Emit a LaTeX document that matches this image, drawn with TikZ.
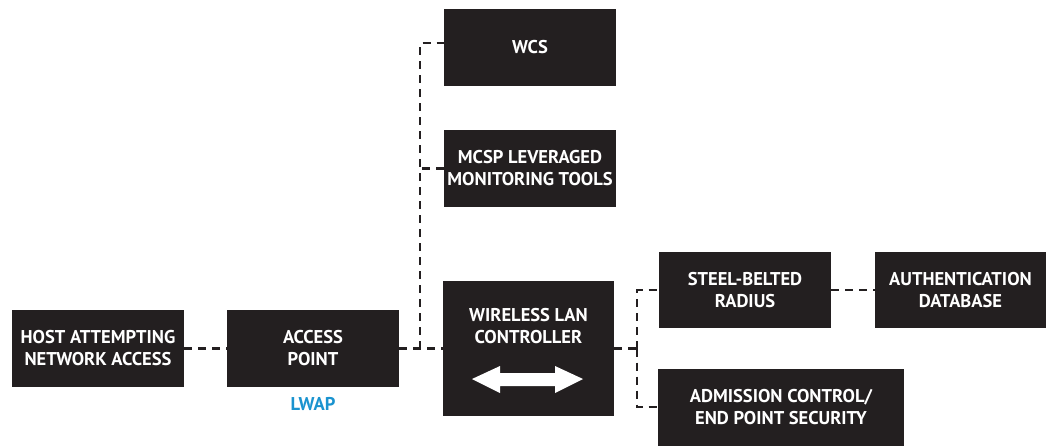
\documentclass[tikz,border=0pt]{standalone}
\usepackage{fontspec}
\setmainfont{PT Sans}
\usetikzlibrary{calc}
\definecolor{boxfill}{HTML}{231F20}
\definecolor{lwapblue}{HTML}{1A93CF}
\begin{document}
\begin{tikzpicture}[x=1pt,y=-1pt,
  lbl/.style={font=\bfseries\fontsize{18.5}{22}\selectfont},
  box/.style={lbl,fill=boxfill,draw=none,text=white,align=center,inner sep=0pt,
    minimum width=172pt,minimum height=77pt},
  link/.style={draw=boxfill,line width=2.5pt,dash pattern=on 8pt off 6pt}]
\useasboundingbox (0,0) rectangle (1046,445);

% boxes
\node[box] (host) at (98,348.5) {HOST ATTEMPTING\\NETWORK ACCESS};
\node[box] (ap) at (313,348.5) {ACCESS\\POINT};
\node[lbl,text=lwapblue] (lwap) at (313,404) {LWAP};
\node[box] (wcs) at (530,47.5) {WCS};
\node[box] (mcsp) at (530,168.5) {MCSP LEVERAGED\\MONITORING TOOLS};
\node[box,minimum width=171pt,minimum height=135pt] (wlc) at (528.5,348.5) {};
\node[lbl,text=white,align=center] (wlctext) at (528.5,326) {WIRELESS LAN\\CONTROLLER};
\node[box,minimum height=76pt] (sbr) at (745,290) {STEEL-BELTED\\RADIUS};
\node[box,minimum width=171pt,minimum height=76pt] (auth) at (960.5,290) {AUTHENTICATION\\DATABASE};
\node[box,minimum width=246pt] (adm) at (781,407) {ADMISSION CONTROL/\\END POINT SECURITY};

% two-way arrow inside the controller
\fill[white,shift={(wlc.center)}]
  (-56.5,30.5) -- (-28.5,17.5) -- (-28.5,24.5) -- (26.5,24.5) -- (26.5,17.5)
  -- (54.5,30.5) -- (26.5,44.5) -- (26.5,37.5) -- (-28.5,37.5) -- (-28.5,44.5) -- cycle;

% junction points
\coordinate (j1) at (420,348.5);
\coordinate (j2) at (637,348.5);

% connectors
\draw[link] (host.east) -- (ap.west);
\draw[link] (ap.east) -- (wlc.west);
\draw[link] (j1) |- ([yshift=4.5pt]wcs.west);
\draw[link] (j1) |- (mcsp.west);
\draw[link] (wlc.east) -- (j2);
\draw[link] (j2) |- (sbr.west);
\draw[link] (j2) |- (adm.west);
\draw[link] (sbr.east) -- (auth.west);
\end{tikzpicture}
\end{document}
